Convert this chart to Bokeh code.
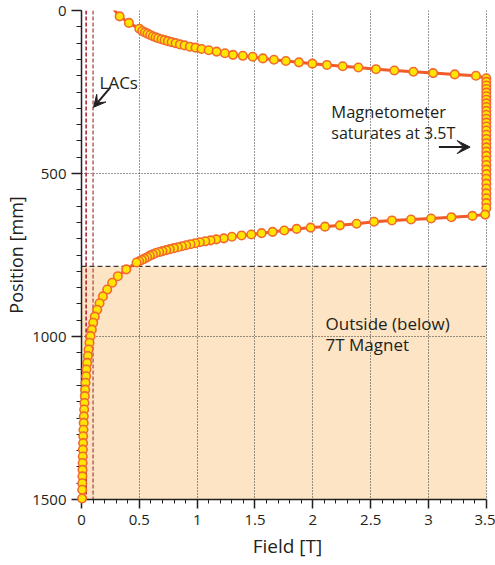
from bokeh.plotting import figure
from bokeh.models import (Range1d, LinearAxis, FixedTicker, CustomJSTickFormatter,
                          Arrow, VeeHead, Grid, ColumnDataSource, CDSView, IndexFilter)
from bokeh.core.properties import value
from bokeh.embed import file_html
from bokeh.resources import INLINE

# ---------------- data ----------------
# Hall-probe scan: position along the bore [mm] and measured field [T]
# top branch (entering the magnet)
top_pos = [-20, 18, 38, 56, 63, 67, 71, 75, 79, 82, 85, 88, 91, 94, 97, 100, 104, 107,
           111, 114, 118, 122, 126, 131, 136, 139, 142, 147, 151, 155, 159, 163, 167,
           171, 175, 180, 184, 188, 192, 196, 200, 208]
top_field = [0.24, 0.33, 0.41, 0.50, 0.525, 0.548, 0.571, 0.594, 0.617, 0.640, 0.663,
             0.692, 0.718, 0.747, 0.779, 0.813, 0.851, 0.891, 0.937, 0.986, 1.038, 1.10,
             1.168, 1.24, 1.31, 1.395, 1.48, 1.568, 1.664, 1.767, 1.88, 1.996, 2.122,
             2.258, 2.394, 2.546, 2.705, 2.87, 3.04, 3.227, 3.41, 3.5]
# saturated section (magnetometer limit)
sat_pos = [219, 230, 241, 252, 263, 274, 285, 296, 308, 320, 332, 344, 356, 368, 381,
           394, 407, 420, 433, 446, 460, 474, 488, 502, 516, 531, 546, 561, 576, 591, 606]
sat_field = [3.5] * len(sat_pos)
# lower branch (leaving the magnet)
low_pos = [626, 630, 634, 638, 641, 644, 648, 654, 659, 663, 666, 670, 675, 679, 683,
           687, 690, 694, 699, 702, 705, 708, 711, 714, 717, 720, 723, 726, 729, 732,
           735, 738, 741, 744, 748, 752, 757, 761, 765, 769, 773, 794, 815, 835, 856,
           877, 898, 918, 939, 958, 979, 999, 1019, 1040, 1060, 1081, 1101, 1122, 1142,
           1163, 1183, 1204, 1224, 1245, 1265, 1286, 1306, 1327, 1347, 1368, 1388, 1409,
           1429, 1450, 1470, 1497]
low_field = [3.49, 3.38, 3.198, 3.022, 2.849, 2.684, 2.529, 2.379, 2.234, 2.105, 1.981,
             1.86, 1.753, 1.652, 1.557, 1.468, 1.384, 1.30, 1.23, 1.165, 1.116, 1.07,
             1.023, 0.983, 0.943, 0.905, 0.868, 0.833, 0.799, 0.764, 0.733, 0.70, 0.672,
             0.643, 0.617, 0.591, 0.568, 0.545, 0.522, 0.499, 0.476, 0.387, 0.314, 0.265,
             0.222, 0.185, 0.156, 0.136, 0.115, 0.101, 0.089, 0.078, 0.069, 0.061, 0.055,
             0.049, 0.043, 0.040, 0.035, 0.032, 0.029, 0.026, 0.023, 0.020, 0.019, 0.017,
             0.015, 0.014, 0.012, 0.011, 0.010, 0.009, 0.008, 0.007, 0.006, 0.005]

position_mm = top_pos + sat_pos + low_pos
field_t = top_field + sat_field + low_field

lac_fields = [0.04, 0.1]           # LAC thresholds [T]
lac_colors = ["#A8192B", "#B5625C"]
magnet_edge_mm = 785               # bottom edge of the 7T magnet
x_ticks = [0, 0.5, 1, 1.5, 2, 2.5, 3, 3.5]
x_minor = [i / 10 for i in range(0, 36)]
y_ticks = [0, 500, 1000, 1500]
y_minor = list(range(0, 1501, 50))

FONT = "Open Sans"
INK = "#231F20"

p = figure(width=495, height=565, output_backend="svg", toolbar_location=None,
           x_range=Range1d(0, 3.562), y_range=Range1d(1500, 0),
           x_axis_type=None, y_axis_type=None,
           min_border_left=81, min_border_right=2, min_border_top=10,
           min_border_bottom=66)
p.outline_line_color = None
p.background_fill_color = "white"

# shaded "outside magnet" region
p.quad(left=[0], right=[3.5], top=[magnet_edge_mm], bottom=[1500],
       fill_color="#FCE4C4", line_color=None, level="image")

# axes
xticker = FixedTicker(ticks=x_ticks, minor_ticks=x_minor)
yticker = FixedTicker(ticks=y_ticks, minor_ticks=y_minor)

xaxis = LinearAxis(ticker=xticker, bounds=(0, 3.5),
                   formatter=CustomJSTickFormatter(code="return tick.toString()"),
                   axis_label="Field [T]")
yaxis = LinearAxis(ticker=yticker, axis_label="Position [mm]")
for ax in (xaxis, yaxis):
    ax.axis_line_color = INK
    ax.axis_line_width = 1.5
    ax.major_tick_line_color = INK
    ax.major_tick_line_width = 1.5
    ax.minor_tick_line_color = INK
    ax.minor_tick_line_width = 1
    ax.major_tick_in = 0
    ax.minor_tick_in = 0
    ax.major_label_text_font = FONT
    ax.major_label_text_font_size = "15px"
    ax.major_label_text_color = INK
    ax.axis_label_text_font = FONT
    ax.axis_label_text_font_style = "normal"
    ax.axis_label_text_color = INK
xaxis.axis_label_text_font_size = "19px"
yaxis.axis_label_text_font_size = "18px"
xaxis.major_tick_out = 9
xaxis.minor_tick_out = 4
xaxis.major_label_standoff = 6
xaxis.axis_label_standoff = 5
yaxis.major_tick_out = 10
yaxis.minor_tick_out = 5
yaxis.major_label_standoff = 5
yaxis.axis_label_standoff = 1
p.add_layout(xaxis, "below")
p.add_layout(yaxis, "left")

# dotted grid
xgrid = Grid(dimension=0, ticker=xticker, cross_bounds=(0, 1500),
             grid_line_color="#333333", grid_line_dash="1 2", grid_line_width=1)
ygrid = Grid(dimension=1, ticker=yticker, cross_bounds=(0, 3.5),
             grid_line_color="#333333", grid_line_dash="1 2", grid_line_width=1)
p.add_layout(xgrid, "center")
p.add_layout(ygrid, "center")

# LAC threshold lines
p.segment(x0=lac_fields, y0=[0, 0], x1=lac_fields, y1=[1500, 1500],
          line_color=lac_colors, line_dash="4 2", line_width=1.5)

# magnet edge
p.segment(x0=[0], y0=[magnet_edge_mm], x1=[3.5], y1=[magnet_edge_mm],
          line_color="#3a3a3a", line_dash="5 3", line_width=1.2)

# field scan
src = ColumnDataSource(data=dict(x=field_t, y=position_mm))
p.line("x", "y", source=src, line_color="#F15A29", line_width=3)
# markers for the points inside the plotted range (first point lies above 0 mm)
inside = [i for i, y in enumerate(position_mm) if y >= 0]
p.scatter("x", "y", source=src, view=CDSView(filter=IndexFilter(inside)),
          size=8.5, fill_color="#FFE600", line_color="#F26A2E", line_width=1.6,
          level="annotation")

# annotations
def label(x, y, t, size="17px"):
    p.text(x=[x], y=[y], text=[t], text_font=value(FONT),
           text_font_size=value(size), text_color=INK,
           text_align="left", text_baseline="alphabetic")

label(0.156, 221, "LACs")
label(2.16, 309, "Magnetometer", "16.5px")
label(2.16, 377, "saturates at 3.5T", "16px")
label(2.11, 959, "Outside (below)")
label(2.11, 1025, "7T Magnet")

p.add_layout(Arrow(end=VeeHead(size=12, fill_color=INK, line_color=INK),
                   x_start=0.25, y_start=236, x_end=0.104, y_end=297,
                   line_color=INK, line_width=2))
p.add_layout(Arrow(end=VeeHead(size=13, fill_color=INK, line_color=INK),
                   x_start=3.09, y_start=419, x_end=3.36, y_end=419,
                   line_color=INK, line_width=2))

open("out.html", "w").write(file_html(p, INLINE))
